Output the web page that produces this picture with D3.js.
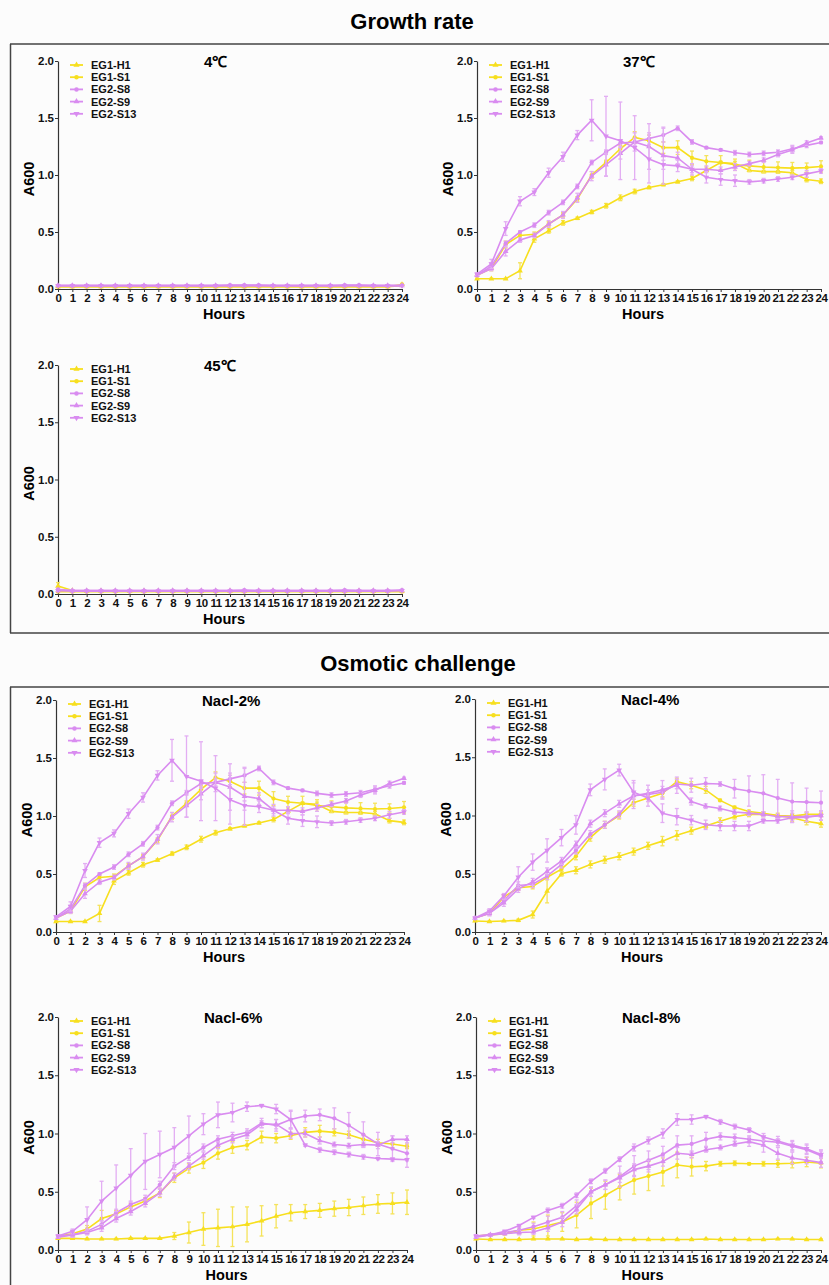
<!DOCTYPE html>
<html>
<head>
<meta charset="utf-8">
<script src="https://cdn.jsdelivr.net/npm/d3@7"></script>
<style>
  body { margin: 0; background: #fcfcfc; }
  svg { display: block; font-family: "Liberation Sans", Arial, sans-serif; }
</style>
</head>
<body>
<svg id="chart" width="829" height="1285"></svg>
<script>
// strains, hours
var strains = ['EG1-H1', 'EG1-S1', 'EG2-S8', 'EG2-S9', 'EG2-S13'];
var hours = d3.range(0, 25);
var yTicks = [0, 0.5, 1.0, 1.5, 2.0];

// 4 C  (means, then error half-widths), order = strains
var t4Mean = [
  [0.02,0.02,0.02,0.02,0.02,0.02,0.02,0.02,0.02,0.02,0.02,0.02,0.02,0.02,0.02,0.02,0.02,0.02,0.02,0.02,0.02,0.02,0.02,0.02,0.04],
  [0.02,0.02,0.02,0.02,0.02,0.02,0.02,0.02,0.02,0.02,0.02,0.02,0.02,0.02,0.02,0.02,0.02,0.02,0.02,0.02,0.02,0.02,0.02,0.02,0.03],
  [0.03,0.03,0.03,0.03,0.03,0.03,0.03,0.03,0.03,0.03,0.03,0.03,0.035,0.035,0.035,0.03,0.03,0.03,0.03,0.03,0.035,0.035,0.03,0.03,0.03],
  [0.03,0.03,0.03,0.03,0.03,0.03,0.03,0.03,0.03,0.03,0.03,0.03,0.03,0.03,0.03,0.03,0.03,0.03,0.03,0.03,0.03,0.03,0.03,0.03,0.03],
  [0.03,0.03,0.03,0.03,0.03,0.03,0.03,0.03,0.03,0.03,0.03,0.03,0.03,0.03,0.03,0.03,0.03,0.03,0.03,0.03,0.03,0.03,0.03,0.03,0.03]
];
var t4Err = [
  [0.005,0.005,0.005,0.005,0.005,0.005,0.005,0.005,0.005,0.005,0.005,0.005,0.005,0.005,0.005,0.005,0.005,0.005,0.005,0.005,0.005,0.005,0.005,0.005,0.01],
  [0.005,0.005,0.005,0.005,0.005,0.005,0.005,0.005,0.005,0.005,0.005,0.005,0.005,0.005,0.005,0.005,0.005,0.005,0.005,0.005,0.005,0.005,0.005,0.005,0.005],
  [0.005,0.005,0.005,0.005,0.005,0.005,0.005,0.005,0.005,0.005,0.005,0.005,0.005,0.005,0.005,0.005,0.005,0.005,0.005,0.005,0.005,0.005,0.005,0.005,0.005],
  [0.005,0.005,0.005,0.005,0.005,0.005,0.005,0.005,0.005,0.005,0.005,0.005,0.005,0.005,0.005,0.005,0.005,0.005,0.005,0.005,0.005,0.005,0.005,0.005,0.005],
  [0.005,0.005,0.005,0.005,0.005,0.005,0.005,0.005,0.005,0.005,0.005,0.005,0.005,0.005,0.005,0.005,0.005,0.005,0.005,0.005,0.005,0.005,0.005,0.005,0.005]
];

// 37 C (same curves are shown again under Nacl-2%)
var t37Mean = [
  [0.09,0.09,0.09,0.16,0.44,0.51,0.58,0.62,0.675,0.73,0.80,0.855,0.89,0.915,0.94,0.97,1.04,1.11,1.10,1.04,1.03,1.03,1.02,0.96,0.945],
  [0.12,0.18,0.39,0.47,0.48,0.57,0.65,0.79,1.00,1.11,1.23,1.33,1.30,1.24,1.24,1.15,1.12,1.11,1.09,1.08,1.07,1.065,1.06,1.065,1.075],
  [0.12,0.20,0.40,0.50,0.56,0.67,0.76,0.90,1.11,1.20,1.28,1.29,1.32,1.35,1.41,1.29,1.24,1.22,1.195,1.18,1.19,1.20,1.23,1.26,1.285],
  [0.12,0.18,0.33,0.43,0.47,0.57,0.65,0.80,0.99,1.09,1.19,1.29,1.25,1.17,1.15,1.05,1.05,1.04,1.07,1.10,1.13,1.18,1.22,1.28,1.325],
  [0.13,0.22,0.53,0.77,0.85,1.02,1.16,1.35,1.48,1.34,1.30,1.24,1.14,1.09,1.08,1.05,0.98,0.96,0.95,0.94,0.95,0.965,0.98,1.01,1.035]
];
var t37Err = [
  [0.005,0.005,0.005,0.07,0.03,0.02,0.02,0.01,0.015,0.02,0.025,0.02,0.01,0.01,0.01,0.02,0.01,0.01,0.02,0.01,0.01,0.01,0.02,0.02,0.02],
  [0.01,0.02,0.03,0.02,0.02,0.02,0.02,0.02,0.03,0.02,0.03,0.05,0.05,0.05,0.06,0.06,0.05,0.06,0.05,0.05,0.05,0.05,0.05,0.04,0.05],
  [0.01,0.03,0.02,0.01,0.02,0.02,0.02,0.02,0.02,0.02,0.03,0.03,0.05,0.06,0.02,0.02,0.01,0.01,0.02,0.02,0.02,0.02,0.03,0.02,0.01],
  [0.01,0.02,0.04,0.02,0.02,0.03,0.03,0.04,0.04,0.10,0.05,0.08,0.20,0.25,0.05,0.03,0.03,0.03,0.03,0.02,0.02,0.02,0.03,0.02,0.01],
  [0.01,0.04,0.06,0.04,0.03,0.04,0.04,0.04,0.18,0.35,0.34,0.28,0.21,0.04,0.05,0.05,0.05,0.05,0.05,0.02,0.02,0.02,0.02,0.03,0.02]
];

// 45 C
var t45Mean = [
  [0.07,0.03,0.025,0.025,0.025,0.025,0.025,0.025,0.025,0.025,0.025,0.025,0.025,0.025,0.025,0.025,0.025,0.025,0.025,0.025,0.025,0.025,0.025,0.025,0.025],
  [0.02,0.02,0.02,0.02,0.02,0.02,0.02,0.02,0.02,0.02,0.02,0.02,0.02,0.02,0.02,0.02,0.02,0.02,0.02,0.02,0.02,0.02,0.02,0.02,0.02],
  [0.04,0.03,0.03,0.03,0.03,0.03,0.03,0.03,0.03,0.03,0.03,0.03,0.03,0.035,0.03,0.03,0.03,0.03,0.03,0.03,0.035,0.03,0.03,0.03,0.035],
  [0.03,0.03,0.03,0.03,0.03,0.03,0.03,0.03,0.03,0.03,0.03,0.03,0.03,0.03,0.03,0.03,0.03,0.03,0.03,0.03,0.03,0.03,0.03,0.03,0.03],
  [0.03,0.025,0.025,0.025,0.025,0.025,0.025,0.025,0.025,0.025,0.025,0.025,0.025,0.025,0.025,0.025,0.025,0.025,0.025,0.025,0.025,0.025,0.025,0.025,0.03]
];
var t45Err = [
  [0.03,0.005,0.005,0.005,0.005,0.005,0.005,0.005,0.005,0.005,0.005,0.005,0.005,0.005,0.005,0.005,0.005,0.005,0.005,0.005,0.005,0.005,0.005,0.005,0.005],
  [0.005,0.005,0.005,0.005,0.005,0.005,0.005,0.005,0.005,0.005,0.005,0.005,0.005,0.005,0.005,0.005,0.005,0.005,0.005,0.005,0.005,0.005,0.005,0.005,0.005],
  [0.005,0.005,0.005,0.005,0.005,0.005,0.005,0.005,0.005,0.005,0.005,0.005,0.005,0.005,0.005,0.005,0.005,0.005,0.005,0.005,0.005,0.005,0.005,0.005,0.005],
  [0.005,0.005,0.005,0.005,0.005,0.005,0.005,0.005,0.005,0.005,0.005,0.005,0.005,0.005,0.005,0.005,0.005,0.005,0.005,0.005,0.005,0.005,0.005,0.005,0.005],
  [0.005,0.005,0.005,0.005,0.005,0.005,0.005,0.005,0.005,0.005,0.005,0.005,0.005,0.005,0.005,0.005,0.005,0.005,0.005,0.005,0.005,0.005,0.005,0.005,0.005]
];

// Nacl-4%
var n4Mean = [
  [0.095,0.09,0.095,0.10,0.15,0.35,0.50,0.53,0.58,0.62,0.65,0.69,0.74,0.78,0.83,0.87,0.91,0.95,0.99,1.01,1.01,1.00,0.98,0.95,0.93],
  [0.12,0.16,0.30,0.38,0.39,0.47,0.54,0.65,0.81,0.92,1.00,1.11,1.15,1.19,1.29,1.26,1.22,1.13,1.07,1.035,1.02,1.00,0.995,1.01,1.01],
  [0.12,0.16,0.27,0.40,0.41,0.48,0.58,0.70,0.84,0.92,1.01,1.17,1.18,1.20,1.27,1.26,1.275,1.27,1.23,1.21,1.19,1.15,1.12,1.115,1.11],
  [0.12,0.16,0.25,0.37,0.43,0.52,0.61,0.75,0.93,1.02,1.10,1.17,1.19,1.22,1.26,1.12,1.08,1.06,1.03,1.02,1.01,0.99,0.99,0.99,1.00],
  [0.12,0.18,0.31,0.47,0.60,0.70,0.81,0.92,1.22,1.31,1.39,1.20,1.15,1.02,0.99,0.96,0.92,0.91,0.91,0.91,0.955,0.955,0.98,0.985,1.00]
];
var n4Err = [
  [0.005,0.005,0.005,0.01,0.03,0.10,0.02,0.03,0.03,0.03,0.03,0.03,0.03,0.04,0.04,0.03,0.02,0.03,0.02,0.02,0.02,0.02,0.03,0.03,0.03],
  [0.01,0.01,0.02,0.02,0.02,0.02,0.02,0.03,0.03,0.03,0.03,0.03,0.03,0.03,0.03,0.03,0.03,0.01,0.01,0.01,0.01,0.01,0.02,0.02,0.02],
  [0.01,0.02,0.02,0.03,0.03,0.03,0.03,0.03,0.03,0.03,0.03,0.03,0.04,0.05,0.04,0.06,0.05,0.02,0.08,0.13,0.16,0.16,0.16,0.12,0.10],
  [0.01,0.02,0.03,0.03,0.03,0.03,0.03,0.03,0.03,0.03,0.03,0.11,0.07,0.08,0.07,0.03,0.02,0.02,0.02,0.02,0.02,0.02,0.05,0.04,0.04],
  [0.01,0.02,0.02,0.09,0.07,0.10,0.07,0.08,0.05,0.09,0.05,0.10,0.07,0.08,0.07,0.04,0.04,0.04,0.04,0.04,0.02,0.02,0.04,0.04,0.04]
];

// Nacl-6%
var n6Mean = [
  [0.10,0.10,0.095,0.095,0.095,0.10,0.10,0.10,0.12,0.15,0.18,0.19,0.20,0.22,0.25,0.29,0.32,0.33,0.34,0.355,0.365,0.38,0.395,0.40,0.41],
  [0.12,0.14,0.18,0.27,0.31,0.37,0.42,0.49,0.62,0.70,0.75,0.83,0.88,0.90,0.97,0.96,0.98,1.01,1.02,1.01,0.99,0.95,0.92,0.91,0.89],
  [0.12,0.13,0.16,0.22,0.32,0.39,0.44,0.56,0.72,0.80,0.88,0.95,0.98,1.01,1.09,1.07,1.12,1.15,1.16,1.13,1.07,0.99,0.91,0.87,0.83],
  [0.11,0.13,0.15,0.19,0.27,0.33,0.40,0.49,0.63,0.72,0.81,0.90,0.95,0.99,1.08,1.08,1.00,1.00,0.94,0.905,0.895,0.905,0.90,0.95,0.95],
  [0.12,0.16,0.26,0.42,0.53,0.64,0.76,0.82,0.88,0.98,1.08,1.16,1.18,1.23,1.24,1.21,1.12,0.90,0.86,0.84,0.82,0.80,0.785,0.78,0.775]
];
var n6Err = [
  [0.005,0.005,0.005,0.005,0.005,0.005,0.005,0.005,0.03,0.09,0.14,0.16,0.17,0.15,0.13,0.10,0.07,0.06,0.06,0.065,0.07,0.075,0.08,0.09,0.105],
  [0.01,0.02,0.03,0.07,0.03,0.03,0.03,0.04,0.04,0.04,0.05,0.05,0.05,0.04,0.05,0.04,0.03,0.04,0.05,0.03,0.03,0.04,0.03,0.03,0.02],
  [0.01,0.02,0.02,0.03,0.03,0.03,0.03,0.03,0.03,0.03,0.03,0.03,0.03,0.03,0.04,0.05,0.07,0.05,0.05,0.09,0.11,0.11,0.10,0.11,0.12],
  [0.01,0.02,0.02,0.03,0.03,0.03,0.03,0.03,0.03,0.03,0.03,0.03,0.03,0.03,0.03,0.04,0.04,0.03,0.03,0.02,0.02,0.02,0.03,0.03,0.03],
  [0.01,0.02,0.11,0.17,0.20,0.23,0.24,0.20,0.17,0.17,0.09,0.11,0.08,0.04,0.01,0.04,0.08,0.01,0.02,0.02,0.02,0.02,0.01,0.01,0.01]
];

// Nacl-8%
var n8Mean = [
  [0.095,0.09,0.09,0.09,0.095,0.095,0.095,0.09,0.095,0.09,0.09,0.09,0.09,0.09,0.09,0.09,0.095,0.09,0.09,0.09,0.09,0.095,0.095,0.09,0.09],
  [0.12,0.13,0.14,0.17,0.18,0.21,0.24,0.30,0.40,0.47,0.54,0.60,0.635,0.67,0.73,0.715,0.72,0.74,0.745,0.74,0.74,0.74,0.745,0.755,0.745],
  [0.12,0.13,0.15,0.17,0.20,0.24,0.28,0.38,0.50,0.56,0.63,0.72,0.77,0.82,0.90,0.91,0.95,0.975,0.965,0.95,0.935,0.925,0.89,0.86,0.81],
  [0.11,0.13,0.14,0.15,0.155,0.19,0.24,0.35,0.50,0.56,0.62,0.69,0.72,0.76,0.83,0.82,0.86,0.88,0.91,0.93,0.90,0.83,0.79,0.77,0.75],
  [0.12,0.13,0.16,0.21,0.28,0.34,0.38,0.47,0.59,0.68,0.78,0.88,0.94,1.00,1.12,1.12,1.145,1.10,1.06,1.03,0.97,0.935,0.90,0.87,0.82]
];
var n8Err = [
  [0.005,0.005,0.005,0.005,0.005,0.005,0.005,0.005,0.005,0.005,0.005,0.005,0.005,0.005,0.005,0.005,0.005,0.005,0.005,0.005,0.005,0.005,0.005,0.005,0.005],
  [0.01,0.01,0.01,0.03,0.06,0.09,0.08,0.11,0.13,0.12,0.11,0.12,0.125,0.12,0.11,0.08,0.04,0.02,0.02,0.01,0.02,0.03,0.04,0.04,0.04],
  [0.01,0.01,0.01,0.02,0.03,0.05,0.05,0.05,0.04,0.04,0.09,0.09,0.08,0.07,0.08,0.07,0.06,0.03,0.03,0.03,0.03,0.03,0.04,0.04,0.05],
  [0.01,0.01,0.01,0.02,0.02,0.03,0.04,0.04,0.04,0.04,0.04,0.05,0.05,0.04,0.05,0.03,0.02,0.02,0.02,0.04,0.06,0.05,0.05,0.03,0.04],
  [0.01,0.01,0.01,0.01,0.01,0.02,0.02,0.02,0.02,0.02,0.02,0.03,0.03,0.04,0.05,0.04,0.01,0.02,0.02,0.02,0.03,0.04,0.04,0.04,0.03]
];

var colors = ['#f7df1e', '#f7df1e', '#d98cf0', '#d98cf0', '#d98cf0'];
var errColors = ['#f5e35a', '#f5e35a', '#e3aef3', '#e3aef3', '#e3aef3'];
var shapes = [d3.symbolTriangle, d3.symbolCircle, d3.symbolCircle, d3.symbolTriangle, d3.symbolTriangle];
var flips = [false, false, false, false, true];

var svg = d3.select('#chart');

// section frames
function frame(y0, y1) {
  svg.append('line').attr('x1', 10).attr('y1', y0).attr('x2', 829).attr('y2', y0)
     .attr('stroke', '#444').attr('stroke-width', 1.5);
  svg.append('line').attr('x1', 10.5).attr('y1', y0).attr('x2', 10.5).attr('y2', y1)
     .attr('stroke', '#444').attr('stroke-width', 1.5);
  if (y1 < 1285)
    svg.append('line').attr('x1', 10).attr('y1', y1).attr('x2', 829).attr('y2', y1)
       .attr('stroke', '#444').attr('stroke-width', 1.5);
}
frame(44, 633);
frame(687, 1290);

svg.append('text').attr('x', 412).attr('y', 29).attr('text-anchor', 'middle')
   .attr('font-size', 22).attr('font-weight', 'bold').text('Growth rate');
svg.append('text').attr('x', 418).attr('y', 671).attr('text-anchor', 'middle')
   .attr('font-size', 22).attr('font-weight', 'bold').text('Osmotic challenge');

var panels = [
  {title: '4\u2103', x0: 58, x1: 402, top: 61, bottom: 289, mean: t4Mean, err: t4Err},
  {title: '37\u2103', x0: 477, x1: 821, top: 61, bottom: 289, mean: t37Mean, err: t37Err},
  {title: '45\u2103', x0: 58, x1: 402, top: 365, bottom: 594, mean: t45Mean, err: t45Err},
  {title: 'Nacl-2%', x0: 56, x1: 404, top: 700, bottom: 932, mean: t37Mean, err: t37Err},
  {title: 'Nacl-4%', x0: 475, x1: 821, top: 699, bottom: 932, mean: n4Mean, err: n4Err},
  {title: 'Nacl-6%', x0: 58, x1: 407, top: 1017, bottom: 1250, mean: n6Mean, err: n6Err},
  {title: 'Nacl-8%', x0: 476, x1: 821, top: 1017, bottom: 1250, mean: n8Mean, err: n8Err}
];

panels.forEach(function(p) {
  var x = d3.scaleLinear().domain([0, 24]).range([p.x0, p.x1]);
  var y = d3.scaleLinear().domain([0, 2]).range([p.bottom, p.top]);
  var g = svg.append('g');

  // axes
  var xa = g.append('g').attr('transform', 'translate(0,' + p.bottom + ')')
    .call(d3.axisBottom(x).tickValues(hours).tickFormat(d3.format('d')).tickSize(3).tickSizeOuter(0).tickPadding(2));
  var ya = g.append('g').attr('transform', 'translate(' + p.x0 + ',0)')
    .call(d3.axisLeft(y).tickValues(yTicks).tickFormat(d3.format('.1f')).tickSize(3).tickSizeOuter(0).tickPadding(1));
  [xa, ya].forEach(function(a) {
    a.select('.domain').attr('stroke', '#333').attr('stroke-width', 1.2);
    a.selectAll('.tick line').attr('stroke', '#333');
    a.selectAll('.tick text').attr('fill', '#111').attr('font-size', 11.5)
      .attr('font-weight', 'bold').attr('font-family', '"Liberation Sans", Arial, sans-serif');
  });
  xa.selectAll('.tick text').attr('letter-spacing', -0.4);

  g.append('text').attr('x', (p.x0 + p.x1) / 2 - 6).attr('y', p.bottom + 30)
   .attr('text-anchor', 'middle').attr('font-size', 14.5).attr('font-weight', 'bold').text('Hours');
  g.append('text').attr('transform', 'translate(' + (p.x0 - 24) + ',' + ((p.top + p.bottom) / 2 + 4) + ') rotate(-90)')
   .attr('text-anchor', 'middle').attr('font-size', 14.5).attr('font-weight', 'bold').text('A600');
  g.append('text').attr('x', p.x0 + 146).attr('y', p.top + 6)
   .attr('font-size', 15).attr('font-weight', 'bold').text(p.title);

  // series: error bars, lines, markers
  var line = d3.line().x(function(d, i) { return x(hours[i]); }).y(function(d) { return y(d); });
  p.mean.forEach(function(vals, s) {
    var sg = g.append('g');
    var eb = sg.selectAll('g.eb').data(vals).enter().append('g')
      .attr('stroke', errColors[s]).attr('stroke-width', 1.3);
    eb.append('line')
      .attr('x1', function(d, i) { return x(hours[i]); })
      .attr('x2', function(d, i) { return x(hours[i]); })
      .attr('y1', function(d, i) { return y(d + p.err[s][i]); })
      .attr('y2', function(d, i) { return y(Math.max(0, d - p.err[s][i])); });
    eb.append('line')
      .attr('x1', function(d, i) { return x(hours[i]) - 2; })
      .attr('x2', function(d, i) { return x(hours[i]) + 2; })
      .attr('y1', function(d, i) { return y(d + p.err[s][i]); })
      .attr('y2', function(d, i) { return y(d + p.err[s][i]); });
    eb.append('line')
      .attr('x1', function(d, i) { return x(hours[i]) - 2; })
      .attr('x2', function(d, i) { return x(hours[i]) + 2; })
      .attr('y1', function(d, i) { return y(Math.max(0, d - p.err[s][i])); })
      .attr('y2', function(d, i) { return y(Math.max(0, d - p.err[s][i])); });

    sg.append('path').datum(vals).attr('d', line)
      .attr('fill', 'none').attr('stroke', colors[s]).attr('stroke-width', 1.6);

    sg.selectAll('path.pt').data(vals).enter().append('path')
      .attr('d', d3.symbol().type(shapes[s]).size(14))
      .attr('fill', colors[s])
      .attr('transform', function(d, i) {
        return 'translate(' + x(hours[i]) + ',' + y(d) + ')' + (flips[s] ? ' rotate(180)' : '');
      });
  });

  // legend
  strains.forEach(function(name, s) {
    var ly = p.top + 4 + s * 12.2;
    g.append('line').attr('x1', p.x0 + 12).attr('x2', p.x0 + 25).attr('y1', ly).attr('y2', ly)
      .attr('stroke', colors[s]).attr('stroke-width', 1.8);
    g.append('path').attr('d', d3.symbol().type(shapes[s]).size(16))
      .attr('fill', colors[s])
      .attr('transform', 'translate(' + (p.x0 + 18.5) + ',' + ly + ')' + (flips[s] ? ' rotate(180)' : ''));
    g.append('text').attr('x', p.x0 + 33).attr('y', ly + 4)
      .attr('font-size', 11).attr('font-weight', 'bold').attr('fill', '#111').text(name);
  });
});
</script>
</body>
</html>
